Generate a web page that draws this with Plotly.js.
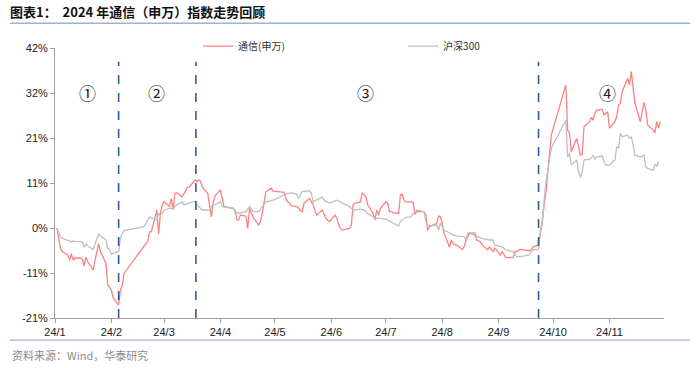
<!DOCTYPE html>
<html>
<head>
<meta charset="utf-8">
<script src="https://cdn.plot.ly/plotly-3.0.1.min.js"></script>
<style>
  html, body { margin: 0; padding: 0; background: #ffffff; }
  #chart { width: 700px; height: 368px; }
</style>
</head>
<body>
<div id="chart"></div>
<script>
// ---- data ----
const telecomDates = [
  '2024-01-02','2024-01-03','2024-01-04','2024-01-05','2024-01-08','2024-01-09','2024-01-10','2024-01-11','2024-01-12',
  '2024-01-15','2024-01-16','2024-01-17','2024-01-18','2024-01-19','2024-01-22','2024-01-23','2024-01-24','2024-01-25',
  '2024-01-26','2024-01-29','2024-01-30','2024-01-31','2024-02-01','2024-02-02','2024-02-05','2024-02-06','2024-02-07',
  '2024-02-08','2024-02-19','2024-02-20','2024-02-21','2024-02-22','2024-02-23','2024-02-26','2024-02-27','2024-02-28',
  '2024-02-29','2024-03-01','2024-03-04','2024-03-05','2024-03-06','2024-03-07','2024-03-08','2024-03-11','2024-03-12',
  '2024-03-13','2024-03-14','2024-03-15','2024-03-18','2024-03-19','2024-03-20','2024-03-21','2024-03-22','2024-03-25',
  '2024-03-26','2024-03-27','2024-03-28','2024-03-29','2024-04-01','2024-04-02','2024-04-03','2024-04-08','2024-04-09',
  '2024-04-10','2024-04-11','2024-04-12','2024-04-15','2024-04-16','2024-04-17','2024-04-18','2024-04-19','2024-04-22',
  '2024-04-23','2024-04-24','2024-04-25','2024-04-26','2024-04-29','2024-04-30','2024-05-06','2024-05-07','2024-05-08',
  '2024-05-09','2024-05-10','2024-05-13','2024-05-14','2024-05-15','2024-05-16','2024-05-17','2024-05-20','2024-05-21',
  '2024-05-22','2024-05-23','2024-05-24','2024-05-27','2024-05-28','2024-05-29','2024-05-30','2024-05-31','2024-06-03',
  '2024-06-04','2024-06-05','2024-06-06','2024-06-07','2024-06-11','2024-06-12','2024-06-13','2024-06-14','2024-06-17',
  '2024-06-18','2024-06-19','2024-06-20','2024-06-21','2024-06-24','2024-06-25','2024-06-26','2024-06-27','2024-06-28',
  '2024-07-01','2024-07-02','2024-07-03','2024-07-04','2024-07-05','2024-07-08','2024-07-09','2024-07-10','2024-07-11',
  '2024-07-12','2024-07-15','2024-07-16','2024-07-17','2024-07-18','2024-07-19','2024-07-22','2024-07-23','2024-07-24',
  '2024-07-25','2024-07-26','2024-07-29','2024-07-30','2024-07-31','2024-08-01','2024-08-02','2024-08-05','2024-08-06',
  '2024-08-07','2024-08-08','2024-08-09','2024-08-12','2024-08-13','2024-08-14','2024-08-15','2024-08-16','2024-08-19',
  '2024-08-20','2024-08-21','2024-08-22','2024-08-23','2024-08-26','2024-08-27','2024-08-28','2024-08-29','2024-08-30',
  '2024-09-02','2024-09-03','2024-09-04','2024-09-05','2024-09-06','2024-09-09','2024-09-10','2024-09-11','2024-09-12',
  '2024-09-13','2024-09-18','2024-09-19','2024-09-20','2024-09-23','2024-09-24','2024-09-25','2024-09-26','2024-09-27',
  '2024-09-30','2024-10-08','2024-10-09','2024-10-10','2024-10-11','2024-10-14','2024-10-15','2024-10-16','2024-10-17',
  '2024-10-18','2024-10-21','2024-10-22','2024-10-23','2024-10-24','2024-10-25','2024-10-28','2024-10-29','2024-10-30',
  '2024-10-31','2024-11-01','2024-11-04','2024-11-05','2024-11-06','2024-11-07','2024-11-08','2024-11-11','2024-11-12',
  '2024-11-13','2024-11-14','2024-11-15','2024-11-18','2024-11-19','2024-11-20','2024-11-21','2024-11-22','2024-11-25',
  '2024-11-26','2024-11-27','2024-11-28','2024-11-29'
];
const telecomValues = [
  0.0, -2.0, -4.7, -5.5, -6.3, -7.5, -6.0, -7.5, -7.0,
  -7.0, -7.2, -8.9, -6.8, -7.9, -9.8, -7.5, -5.5, -3.7,
  -5.5, -8.2, -13.3, -13.7, -14.5, -16.3, -18.0, -14.5, -13.3,
  -10.6, -4.2, -3.6, -3.2, -0.9, -0.9, 4.2, -1.4, 3.4,
  5.4, 6.1, 5.0, 6.9, 4.2, 8.1, 8.2, 7.3, 8.2,
  8.9, 9.6, 9.6, 11.2, 10.8, 11.2, 11.0, 9.6, 8.1,
  5.0, 2.6, 5.8, 7.5, 8.9, 6.9, 5.0, 4.6, 4.2,
  1.9, 1.9, 3.0, 2.8, -0.1, 4.6, 3.5, 2.6, 0.7,
  1.5, 3.4, 6.0, 8.5, 9.3, 8.6, 8.3, 6.8, 6.1,
  5.8, 5.2, 5.0, 4.6, 4.0, 3.8, 5.8, 6.9, 6.2,
  5.4, 4.0, 3.0, 4.2, 3.0, 2.3, 1.8, 1.5, 3.0,
  2.3, 0.8, -0.1, -0.5, -0.1, 0.7, 5.4, 5.8, 6.1,
  8.2, 7.7, 7.3, 5.4, 3.4, 1.9, 4.2, 3.0, 4.6,
  6.1, 5.8, 3.8, 3.8, 3.6, 3.4, 7.7, 7.9, 6.5,
  6.1, 6.1, 6.0, 3.2, 3.8, 3.8, 3.8, 3.0, -0.6,
  0.3, 0.5, 1.1, 2.8, 2.6, 1.0, -1.2, -4.5, -2.8,
  -3.7, -3.8, -4.0, -5.0, -4.4, -3.0, -2.0, -1.2, -1.6,
  -2.8, -3.0, -3.2, -4.0, -5.1, -4.4, -5.0, -5.5, -4.7,
  -6.3, -5.5, -6.2, -6.9, -6.9, -6.9, -5.5, -5.5, -5.2,
  -5.0, -5.3, -5.1, -4.4, -4.0, -1.2, 1.1, 5.0, 8.1,
  21.7, 33.4, 22.9, 22.1, 17.8, 20.9, 19.0, 17.0, 17.2,
  23.6, 24.8, 25.8, 25.2, 26.8, 27.5, 27.7, 26.4, 26.8,
  27.1, 23.3, 24.8, 26.0, 28.7, 29.1, 31.8, 34.9, 33.4,
  36.5, 32.2, 29.1, 24.8, 27.0, 29.3, 27.5, 24.0, 22.9,
  22.2, 24.8, 23.3, 24.8
];
const hs300Dates = [
  '2024-01-02','2024-01-03','2024-01-04','2024-01-05','2024-01-08','2024-01-09','2024-01-10','2024-01-11','2024-01-12',
  '2024-01-15','2024-01-16','2024-01-17','2024-01-18','2024-01-19','2024-01-22','2024-01-23','2024-01-24','2024-01-25',
  '2024-01-26','2024-01-29','2024-01-30','2024-01-31','2024-02-01','2024-02-02','2024-02-05','2024-02-06','2024-02-07',
  '2024-02-08','2024-02-19','2024-02-20','2024-02-21','2024-02-22','2024-02-23','2024-02-26','2024-02-27','2024-02-28',
  '2024-02-29','2024-03-01','2024-03-04','2024-03-06','2024-03-08','2024-03-11','2024-03-12','2024-03-15','2024-03-18',
  '2024-03-20','2024-03-22','2024-03-26','2024-03-27','2024-04-01','2024-04-02','2024-04-08','2024-04-09','2024-04-11',
  '2024-04-15','2024-04-17','2024-04-19','2024-04-22','2024-04-24','2024-04-26','2024-04-30','2024-05-08','2024-05-10',
  '2024-05-13','2024-05-14','2024-05-16','2024-05-20','2024-05-21','2024-05-22','2024-05-27','2024-05-28','2024-05-31',
  '2024-06-04','2024-06-07','2024-06-11','2024-06-13','2024-06-17','2024-06-19','2024-06-21','2024-06-24','2024-06-25',
  '2024-06-28','2024-07-02','2024-07-05','2024-07-08','2024-07-09','2024-07-11','2024-07-12','2024-07-15','2024-07-16',
  '2024-07-18','2024-07-22','2024-07-23','2024-07-24','2024-07-26','2024-07-29','2024-07-30','2024-07-31','2024-08-01',
  '2024-08-02','2024-08-05','2024-08-07','2024-08-09','2024-08-13','2024-08-14','2024-08-15','2024-08-19','2024-08-20',
  '2024-08-23','2024-08-27','2024-08-29','2024-08-30','2024-09-03','2024-09-05','2024-09-09','2024-09-11','2024-09-13',
  '2024-09-18','2024-09-19','2024-09-20','2024-09-23','2024-09-24','2024-09-25','2024-09-26','2024-09-27','2024-09-30',
  '2024-10-08','2024-10-09','2024-10-10','2024-10-11','2024-10-14','2024-10-15','2024-10-16','2024-10-17','2024-10-18',
  '2024-10-21','2024-10-22','2024-10-23','2024-10-24','2024-10-25','2024-10-28','2024-10-29','2024-10-30','2024-10-31',
  '2024-11-01','2024-11-04','2024-11-05','2024-11-06','2024-11-07','2024-11-08','2024-11-11','2024-11-12','2024-11-13',
  '2024-11-14','2024-11-15','2024-11-18','2024-11-19','2024-11-20','2024-11-21','2024-11-22','2024-11-25','2024-11-26',
  '2024-11-27','2024-11-28'
];
const hs300Values = [
  0.0, -1.2, -2.0, -2.4, -2.8, -3.0, -3.2, -3.0, -3.1,
  -3.2, -3.2, -4.5, -3.7, -4.2, -5.0, -3.7, -2.5, -1.4,
  -1.9, -2.8, -4.7, -5.1, -6.1, -5.9, -5.5, -2.4, -1.2,
  -0.6, 0.3, 1.0, 1.9, 2.6, 2.4, 1.9, 3.4, 3.0,
  3.4, 4.2, 4.6, 4.6, 5.4, 6.1, 5.4, 5.8, 6.3,
  5.0, 4.2, 4.2, 5.1, 6.1, 5.0, 4.6, 3.8, 3.4,
  3.8, 5.0, 3.8, 3.8, 5.0, 6.1, 6.5, 8.1, 8.2,
  7.9, 6.9, 8.5, 8.7, 8.1, 6.1, 7.2, 6.5, 5.8,
  6.5, 5.8, 5.0, 4.2, 4.4, 4.2, 3.4, 2.6, 2.3,
  2.3, 1.9, 1.1, 0.5, 1.5, 2.3, 2.5, 2.6, 3.4,
  4.2, 3.8, 1.5, 0.7, 0.5, 0.7, -0.5, 1.1, 0.3,
  -0.5, -1.1, -1.6, -1.9, -2.0, -2.8, -1.2, -1.1, -2.0,
  -2.4, -2.8, -2.8, -4.0, -4.4, -5.1, -5.5, -6.7, -6.7,
  -6.3, -5.5, -5.1, -5.0, -0.5, 1.5, 6.0, 10.5, 18.6,
  25.2, 16.6, 17.4, 14.7, 15.9, 13.1, 11.8, 13.0, 15.9,
  16.0, 16.3, 17.0, 16.0, 16.6, 16.8, 15.5, 14.7, 14.6,
  14.7, 15.9, 19.0, 18.6, 22.1, 21.3, 21.7, 20.9, 21.3,
  19.4, 17.0, 16.6, 16.8, 17.0, 14.3, 13.9, 13.5, 14.9,
  14.3, 15.5
];
const monthTickVals = ['2024-01-01','2024-02-01','2024-03-01','2024-04-01','2024-05-01','2024-06-01',
                       '2024-07-01','2024-08-01','2024-09-01','2024-10-01','2024-11-01'];
const monthTickText = ['24/1','24/2','24/3','24/4','24/5','24/6','24/7','24/8','24/9','24/10','24/11'];
const yTickVals = [-21, -10.5, 0, 10.5, 21, 31.5, 42];
const yTickText = ['-21%','-11%','0%','11%','21%','32%','42%'];
const phaseLabels = ['①','②','③','④'];
const phaseDates = ['2024-01-19','2024-02-26','2024-06-20','2024-10-31'];
const dividerDates = ['2024-02-05','2024-03-18 12:00','2024-09-23'];
const seriesNames = ['通信(申万)','沪深300'];

// ---- chart ----
const latin = 'Liberation Sans, Arial, sans-serif';
const cjk = 'Noto Sans CJK SC, sans-serif';

const traces = [
  { x: telecomDates, y: telecomValues, name: seriesNames[0], type: 'scatter', mode: 'lines',
    line: { color: '#FF8080', width: 1.3 }, hoverinfo: 'skip' },
  { x: hs300Dates, y: hs300Values, name: seriesNames[1], type: 'scatter', mode: 'lines',
    line: { color: '#BFBFBF', width: 1.3 }, hoverinfo: 'skip' }
];

const shapes = dividerDates.map(d => ({
  type: 'line', xref: 'x', yref: 'y', x0: d, x1: d, y0: -21, y1: 38.8,
  line: { color: '#2F5C98', width: 1.6, dash: 'dash' }
}));
// header / footer rules
shapes.push({ type: 'line', xref: 'paper', yref: 'paper', x0: -0.074, x1: 1.043, y0: 1.092, y1: 1.092,
  line: { color: '#9DB4D2', width: 1.5 } });
shapes.push({ type: 'line', xref: 'paper', yref: 'paper', x0: -0.074, x1: 1.043, y0: -0.082, y1: -0.082,
  line: { color: '#9DB4D2', width: 1.2 } });

const annotations = phaseLabels.map((t, i) => ({
  text: t, x: phaseDates[i], y: 31.7, xref: 'x', yref: 'y', showarrow: false,
  font: { family: cjk, size: 17, color: '#222' }
}));
annotations.push({
  text: '资料来源：Wind，华泰研究', xref: 'paper', yref: 'paper', x: -0.074, y: -0.137,
  xanchor: 'left', yanchor: 'middle', showarrow: false,
  font: { family: cjk, size: 11, color: '#8C8C8C' }
});

const layout = {
  width: 700, height: 368,
  margin: { l: 55, r: 36, t: 48, b: 50 },
  paper_bgcolor: '#ffffff', plot_bgcolor: '#ffffff',
  title: { text: '<b>图表1：  2024 年通信（申万）指数走势回顾</b>', xref: 'container', yref: 'container',
    x: 10/700, xanchor: 'left', y: 1 - 12/368, yanchor: 'middle',
    font: { family: cjk, size: 13, color: '#111' } },
  showlegend: true,
  legend: { orientation: 'h', x: 0.235, xanchor: 'left', y: 1.007, yanchor: 'middle',
    entrywidth: 160, entrywidthmode: 'pixels', bgcolor: 'rgba(0,0,0,0)',
    font: { family: cjk, size: 10, color: '#333' }, traceorder: 'normal' },
  xaxis: {
    type: 'date', range: ['2024-01-01', '2024-12-01'],
    tickmode: 'array', tickvals: monthTickVals, ticktext: monthTickText,
    showgrid: false, zeroline: false, showline: true, linecolor: '#A0A0A0', linewidth: 1,
    ticks: 'outside', ticklen: 4, tickcolor: '#A0A0A0',
    tickfont: { family: latin, size: 11, color: '#222' }, fixedrange: true
  },
  yaxis: {
    range: [-21, 42], tickmode: 'array', tickvals: yTickVals, ticktext: yTickText,
    showgrid: false, zeroline: false, showline: true, linecolor: '#A0A0A0', linewidth: 1,
    ticks: 'outside', ticklen: 4, tickcolor: '#A0A0A0',
    tickfont: { family: latin, size: 11, color: '#222' }, fixedrange: true
  },
  shapes: shapes,
  annotations: annotations
};

Plotly.newPlot('chart', traces, layout, { staticPlot: true, displayModeBar: false });
</script>
</body>
</html>
